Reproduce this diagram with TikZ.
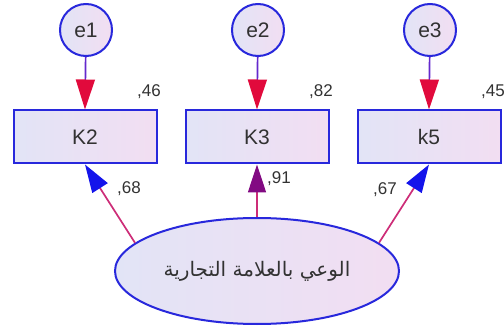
\documentclass[tikz,border=0pt]{standalone}
\usepackage{fontspec}
\setmainfont{Liberation Sans}
\newfontfamily\arabicfont[Script=Arabic]{DejaVu Sans}
\TeXXeTstate=1
\usetikzlibrary{arrows.meta,shapes.geometric}

\definecolor{edgeblue}{RGB}{40,40,220}
\definecolor{fillleft}{RGB}{226,228,246}
\definecolor{fillright}{RGB}{242,222,242}
\definecolor{tipred}{RGB}{225,10,60}
\definecolor{tipblue}{RGB}{20,20,235}
\definecolor{tippurple}{RGB}{130,10,130}
\definecolor{shafterr}{RGB}{100,40,205}
\definecolor{shaftlat}{RGB}{205,45,120}
\definecolor{txt}{RGB}{50,50,50}

\tikzset{
  errnode/.style={circle,draw=edgeblue,line width=2pt,left color=fillleft,right color=fillright,
    minimum size=52pt,inner sep=0pt,font=\fontsize{21}{21}\selectfont,text=txt},
  obsnode/.style={rectangle,draw=edgeblue,line width=2pt,left color=fillleft,right color=fillright,
    minimum width=143pt,minimum height=53pt,inner sep=0pt,font=\fontsize{21}{21}\selectfont,text=txt},
  latnode/.style={ellipse,draw=edgeblue,line width=2pt,left color=fillleft,right color=fillright,
    minimum width=284pt,minimum height=106pt,inner sep=0pt,text=txt},
  coef/.style={font=\fontsize{17}{17}\selectfont,text=txt,inner sep=0pt},
  errarrow/.style={draw=shafterr,line width=1.7pt,-{Triangle[length=30pt,width=19pt,color=tipred]}},
  latarrow/.style={draw=shaftlat,line width=1.7pt,-{Triangle[length=28pt,width=18pt,color=#1]}}
}

\begin{document}
\begin{tikzpicture}[x=1pt,y=-1pt]
  \useasboundingbox (0,0) rectangle (504,326);
  % --- error terms and observed indicators
  \foreach \i/\xx/\lab/\rsq in {1/86/K2/46,2/258/K3/82,3/430/k5/45} {
    \node[errnode] (e\i) at (\xx,30) {e\i};
    \node[obsnode] (ind\i) at (\xx-1,137) {\lab};
    \node[coef] (r\i) at (\xx+63,92) {,\rsq};
    \draw[errarrow] (e\i) -- (ind\i.north);
  }
  % --- latent factor
  \node[latnode] (lat) at (257,271) {\arabicfont\fontsize{20}{20}\selectfont\beginR الوعي بالعلامة التجارية\endR};
  \draw[latarrow=tipblue] (lat.167) -- (ind1.south);
  \draw[latarrow=tippurple] (lat.north) -- (ind2.south);
  \draw[latarrow=tipblue] (lat.13) -- (ind3.south);
  % --- loadings
  \node[coef] (l1) at (129,189) {,68};
  \node[coef] (l2) at (279,179) {,91};
  \node[coef] (l3) at (385,190) {,67};
\end{tikzpicture}
\end{document}
